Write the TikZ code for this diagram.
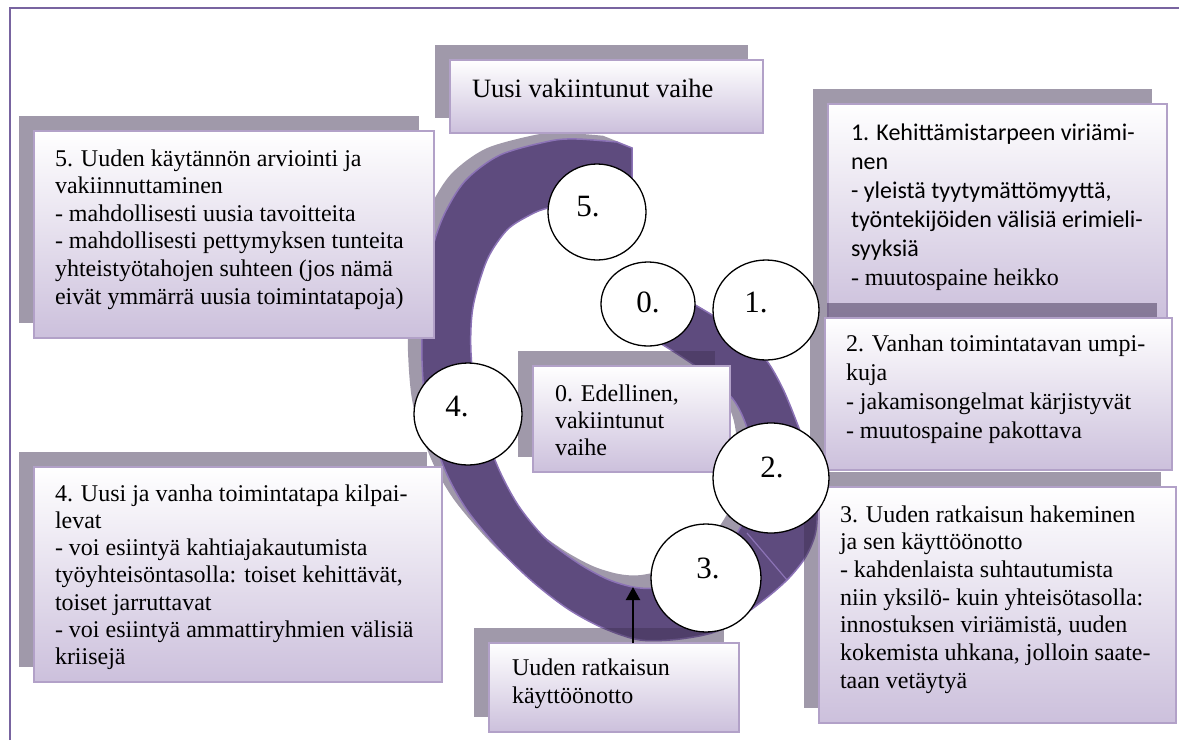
\documentclass[tikz,border=0pt]{standalone}
\usepackage{fontspec}
\setmainfont{Liberation Serif}
\newfontfamily\calibri{Carlito}
\usetikzlibrary{arrows.meta,shapes.geometric}

\definecolor{shadowc}{RGB}{65,51,85}
\definecolor{boxlav}{RGB}{204,192,220}
\definecolor{boxedge}{RGB}{178,161,200}
\definecolor{ringfill}{RGB}{94,75,126}
\definecolor{ringedge}{RGB}{140,115,182}
\definecolor{framec}{RGB}{120,100,160}

\newcommand\panel[5]{%
  \fill[boxshadow] (#2-15,#3-15) rectangle (#4-15,#5-15);
  \node[mainbox, anchor=north west, minimum width={#4-#2}, minimum height={#5-#3}] (#1) at (#2,#3) {};
}
\newcommand\ringpath{(632,148) -- plot[smooth] coordinates {(617,142) (577,139) (550,141) (500,155) (465,181) (443,217) (430,258) (423,310) (422,361) (427,415) (445,470) (467,510) (500,550) (533,582) (568,609) (603,628) (640,640) (680,639) (720,630) (760,603) (787,580) (805,558) (815,535) (817,510) (812,465) (797,423) (783,389) (767,361) (745,338) (717,318) (690,302)} -- plot[smooth] coordinates {(655,340) (682,357) (712,378) (735,402) (748,432) (752,475) (744,520) (718,558) (685,580) (655,588) (633,587) (607,579) (578,563) (545,538) (518,505) (497,465) (478,410) (471,353) (473,307) (487,260) (507,230) (530,215) (548,208) (590,200) (632,200)} -- cycle}

\begin{document}
\begin{tikzpicture}[x=1pt,y=-1pt,
  boxshadow/.style={fill=shadowc, fill opacity=0.5, draw=none},
  mainbox/.style={draw=boxedge, line width=2pt, top color=white, bottom color=boxlav, inner sep=0pt, outer sep=0pt},
  txt/.style={anchor=base west, inner sep=0pt, outer sep=0pt},
  numcircle/.style={ellipse, draw=black, line width=1.3pt, fill=white, inner sep=0pt},
  numlabel/.style={font=\fontsize{31}{31}\selectfont, inner sep=0pt},
  arrowline/.style={line width=2.2pt, -{Triangle[width=14pt,length=13pt]}}
]
\useasboundingbox (0,0) rectangle (1179,740);

% frame
\draw[framec, line width=1.5pt] (10,740) -- (10,8) -- (1179,8);

% ring
\fill[boxshadow, shift={(-14,-10)}, shift={(620,390)}, yscale=0.985, shift={(-620,-390)}] \ringpath;
\filldraw[fill=ringfill, draw=ringedge, line width=1.5pt] \ringpath;
\draw[ringedge, line width=1.2pt] (747,533) -- (787,580);

% boxes
\panel{buusi}{450}{60}{763}{133}
\node[txt, font=\fontsize{26.5}{30}\selectfont] (tuusi) at (472,97) {Uusi vakiintunut vaihe};

\panel{b5}{34}{131}{434}{338}
\node[txt, font=\fontsize{24}{27.6}\selectfont] (t5) at (55,166) {\parbox[t]{400pt}{\raggedright
5. Uuden käytännön arviointi ja\\
vakiinnuttaminen\\
- mahdollisesti uusia tavoitteita\\
- mahdollisesti pettymyksen tunteita\\
yhteistyötahojen suhteen (jos nämä\\
eivät ymmärrä uusia toimintatapoja)}};

\panel{b4}{34}{467}{442}{682}
\node[txt, font=\fontsize{24}{27.3}\selectfont] (t4) at (55,501) {\parbox[t]{400pt}{\raggedright
4. Uusi ja vanha toimintatapa kilpai-\\
levat\\
- voi esiintyä kahtiajakautumista\\
työyhteisöntasolla: toiset kehittävät,\\
toiset jarruttavat\\
- voi esiintyä ammattiryhmien välisiä\\
kriisejä}};

\panel{b0}{533}{366}{730}{472}
\node[txt, font=\fontsize{24}{27}\selectfont] (t0) at (555,401) {\parbox[t]{200pt}{\raggedright
0. Edellinen,\\
vakiintunut\\
vaihe}};

\panel{bU}{489}{643}{739}{732}
\node[txt, font=\fontsize{24}{28}\selectfont] (tU) at (512,675) {\parbox[t]{240pt}{\raggedright
Uuden ratkaisun\\
käyttöönotto}};

\panel{b1}{828}{104}{1167}{318}
\node[txt, font=\fontsize{24}{29}\selectfont] (t1) at (851,140) {\parbox[t]{330pt}{\raggedright
{\calibri 1. Kehittämistarpeen viriämi-\\
nen\\
- yleistä tyytymättömyyttä,\\
työntekijöiden välisiä erimieli-\\
syyksiä}\\
- muutospaine heikko}};

\panel{b2}{825}{318}{1172}{470}
\node[txt, font=\fontsize{24}{29}\selectfont] (t2) at (846,351) {\parbox[t]{330pt}{\raggedright
2. Vanhan toimintatavan umpi-\\
kuja\\
- jakamisongelmat kärjistyvät\\
- muutospaine pakottava}};

\panel{b3}{819}{487}{1176}{723}
\node[txt, font=\fontsize{24}{27.7}\selectfont] (t3) at (840,522) {\parbox[t]{340pt}{\raggedright
3. Uuden ratkaisun hakeminen\\
ja sen käyttöönotto\\
- kahdenlaista suhtautumista\\
niin yksilö- kuin yhteisötasolla:\\
innostuksen viriämistä, uuden\\
kokemista uhkana, jolloin saate-\\
taan vetäytyä}};

% circles
\node[numcircle, minimum width=98pt, minimum height=96pt] (c5) at (597,212) {};
\node[numlabel] (l5) at (588,207) {5.};
\node[numcircle, minimum width=94pt, minimum height=84pt] (c0) at (648,304) {};
\node[numlabel] (l0) at (648,302) {0.};
\node[numcircle, minimum width=106pt, minimum height=100pt] (c1) at (766,310) {};
\node[numlabel] (l1) at (756,302) {1.};
\node[numcircle, minimum width=108pt, minimum height=102pt] (c4) at (468,414) {};
\node[numlabel] (l4) at (457,407) {4.};
\node[numcircle, minimum width=116pt, minimum height=110pt] (c2) at (771,478) {};
\node[numlabel] (l2) at (772,467) {2.};
\node[numcircle, minimum width=110pt, minimum height=108pt] (c3) at (706,578) {};
\node[numlabel] (l3) at (708,568) {3.};

% arrow
\coordinate (tip) at (633,587);
\draw[arrowline] (bU.north -| tip) -- (tip);
\end{tikzpicture}
\end{document}
